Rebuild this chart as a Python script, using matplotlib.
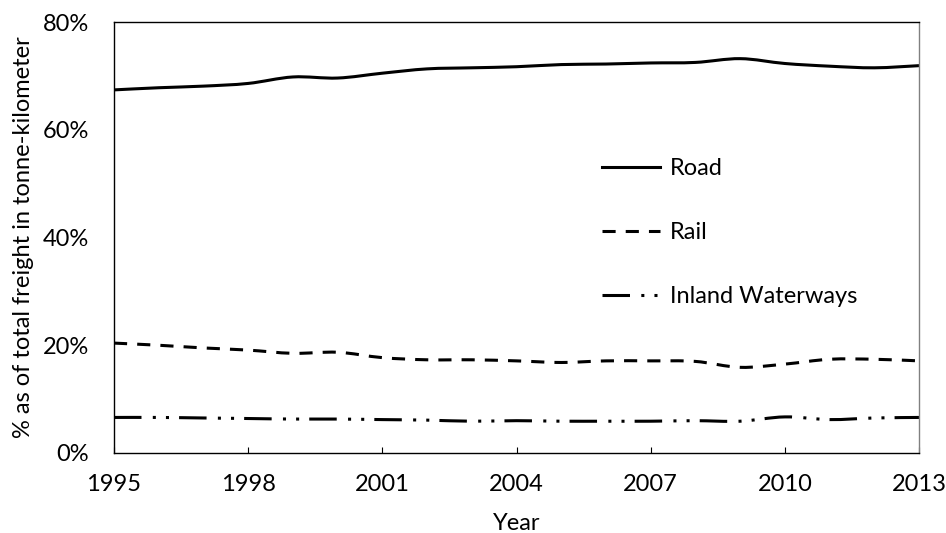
import numpy as np
import matplotlib
matplotlib.use("Agg")
import matplotlib.pyplot as plt
from matplotlib.path import Path
from matplotlib.patches import PathPatch
from matplotlib.lines import Line2D

plt.rcParams['font.family'] = ['Lato', 'DejaVu Sans']

years = list(range(1995, 2014))
road = [67.4, 67.8, 68.1, 68.6, 69.8, 69.6, 70.5, 71.3, 71.5, 71.7,
        72.1, 72.2, 72.4, 72.5, 73.2, 72.3, 71.8, 71.5, 71.9]
rail = [20.4, 20.0, 19.5, 19.1, 18.5, 18.7, 17.7, 17.3, 17.3, 17.1,
        16.8, 17.1, 17.1, 17.0, 15.9, 16.5, 17.4, 17.4, 17.1]
inland = [6.6, 6.6, 6.5, 6.4, 6.3, 6.3, 6.2, 6.1, 5.9, 6.0,
          5.9, 5.9, 5.9, 6.0, 5.9, 6.7, 6.2, 6.5, 6.6]
labels = ['Road', 'Rail', 'Inland Waterways']

x_ticks = list(range(1995, 2014, 3))
y_ticks = [0, 20, 40, 60, 80]

FS = 17
LW = 2.2
styles = {
    'Road': '-',
    'Rail': (0, (4.3, 3.3)),
    'Inland Waterways': (0, (9, 3.7, 1, 3.3, 1, 3.3)),
}


def smooth_path(x, y):
    # catmull-rom style smoothing, like excel's "smoothed line"
    pts = np.column_stack([x, y]).astype(float)
    n = len(pts)
    verts = [pts[0]]
    codes = [Path.MOVETO]
    for i in range(n - 1):
        p0 = pts[i - 1] if i > 0 else pts[i]
        p1 = pts[i]
        p2 = pts[i + 1]
        p3 = pts[i + 2] if i + 2 < n else pts[i + 1]
        c1 = p1 + (p2 - p0) / 6.0
        c2 = p2 - (p3 - p1) / 6.0
        verts += [c1, c2, p2]
        codes += [Path.CURVE4] * 3
    return Path(verts, codes)


fig = plt.figure(figsize=(9.46, 5.33), dpi=100)
ax = fig.add_axes([0.1205, 0.1501, 0.851, 0.8086])

for name, vals in zip(labels, [road, rail, inland]):
    patch = PathPatch(smooth_path(years, vals), fill=False, edgecolor='black',
                      lw=LW, linestyle=styles[name], capstyle='butt',
                      transform=ax.transData)
    ax.add_patch(patch)

ax.set_xlim(1995, 2013)
ax.set_ylim(0, 80)
ax.set_xticks(x_ticks)
ax.set_yticks(y_ticks)
ax.set_yticklabels([f'{v}%' for v in y_ticks])
ax.tick_params(axis='x', direction='in', length=4, width=0.8, pad=15, labelsize=FS)
ax.tick_params(axis='y', length=0, pad=18, labelsize=FS)

for s in ['left', 'bottom', 'top']:
    ax.spines[s].set_color('black')
    ax.spines[s].set_linewidth(1.0)
ax.spines['right'].set_color('#808080')
ax.spines['right'].set_linewidth(1.0)

ax.set_xlabel('Year', fontsize=FS, labelpad=13)
ax.set_ylabel('% as of total freight in tonne-kilometer', fontsize=FS, labelpad=6)

handles = [Line2D([], [], color='black', lw=LW, linestyle=styles[n],
                  dash_capstyle='butt') for n in labels]
ax.legend(handles, labels, loc='upper left', bbox_to_anchor=(0.606, 0.685),
          frameon=False, fontsize=FS, handlelength=2.46, handletextpad=0.42,
          labelspacing=1.83, borderpad=0, borderaxespad=0)

fig.savefig('out.png', dpi=100)
